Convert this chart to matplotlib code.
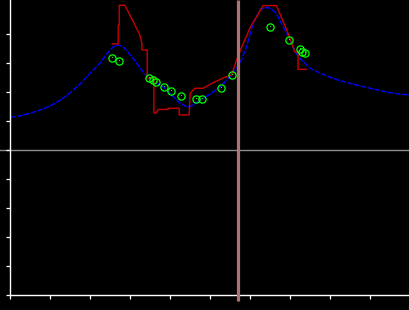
import numpy as np
import matplotlib
matplotlib.use("Agg")
import matplotlib.pyplot as plt

# blue model curve
model_x = [0.0, 0.25, 0.5, 0.75, 1.0, 1.25, 1.5, 1.75, 2.0, 2.25, 2.41, 2.575, 2.7,
           2.825, 3.0, 3.075, 3.25, 3.41, 3.575, 3.75, 3.91, 4.075, 4.25, 4.41, 4.535,
           4.75, 5.0, 5.25, 5.535, 5.75, 5.91, 6.075, 6.25, 6.37, 6.5, 6.66, 6.825,
           7.0, 7.12, 7.285, 7.5, 7.75, 8.0, 8.25, 8.5, 8.75, 9.0, 9.25, 9.5, 9.75, 10.0]
model_y = [1.14, 1.19, 1.28, 1.39, 1.53, 1.73, 1.99, 2.29, 2.66, 3.02, 3.32, 3.57, 3.63,
           3.57, 3.29, 3.17, 2.83, 2.56, 2.37, 2.25, 2.10, 1.85, 1.62, 1.50, 1.53,
           1.73, 1.94, 2.19, 2.60, 3.01, 3.57, 4.38, 4.84, 4.93, 4.90, 4.72, 4.26,
           3.80, 3.40, 3.11, 2.83, 2.66, 2.52, 2.40, 2.31, 2.22, 2.14, 2.06, 1.99, 1.94, 1.90]

# red step trace
trace_x = [2.55, 2.70, 2.70, 2.725, 2.725, 2.8675, 3.235, 3.2925, 3.2925, 3.425, 3.425,
           3.5925, 3.5925, 3.6425, 3.70, 3.95, 3.95, 4.225, 4.225, 4.475, 4.50, 4.6175,
           4.825, 5.075, 5.3675, 5.535, 5.66, 5.7425, 5.9925, 6.325, 6.66, 6.95, 7.1175,
           7.20, 7.20, 7.41]
trace_y = [3.67, 3.67, 4.32, 4.32, 5.0, 5.0, 4.0, 3.69, 3.46, 3.46, 2.49,
           2.49, 1.28, 1.28, 1.41, 1.41, 1.45, 1.45, 1.22, 1.22, 1.96, 2.14,
           2.14, 2.33, 2.52, 2.60, 3.11, 3.40, 4.21, 4.99, 4.99, 4.03, 3.40,
           3.37, 2.79, 2.79]

# green measured points
meas_x = [2.55, 2.725, 3.46, 3.56, 3.6425, 3.85, 4.025, 4.275, 4.6425, 4.785,
          5.275, 5.535, 6.50, 6.975, 7.2425, 7.31, 7.385]
meas_y = [3.17, 3.07, 2.48, 2.41, 2.36, 2.17, 2.05, 1.86, 1.76, 1.76,
          2.15, 2.59, 4.24, 3.79, 3.48, 3.40, 3.35]

marker_x = 5.7

W, H = 410, 310
fig = plt.figure(figsize=(W / 100, H / 100), dpi=100, facecolor="black")
ax = fig.add_axes([10.3 / W, 14.7 / H, 1 - 10.3 / W, 1 - 14.7 / H])
ax.set_facecolor("black")

x0, x1 = 0.0, 10.0
y0, y1 = -5.0, 5.183
ax.set_xlim(x0, x1)
ax.set_ylim(y0, y1)

# zero line and marker line, running past the axes
ax.plot([-0.26, x1], [0, 0], color="#8c8c8c", lw=1.0, clip_on=False, zorder=1)
ax.plot([marker_x, marker_x], [y1, -5.2], color="#a87474", lw=2.3,
        clip_on=False, zorder=5, solid_capstyle="butt")

ax.plot(model_x, model_y, color="#0000ff", lw=1.0, dashes=(4, 1), zorder=2)
ax.plot(trace_x, trace_y, color="#c80000", lw=1.0, zorder=3)
ax.plot(meas_x, meas_y, "o", ms=5.2, mfc="none", mec="#00ff00", mew=0.9, zorder=4)
ax.plot(meas_x, meas_y, ",", color="#00ff00", zorder=4)

for side in ["top", "right"]:
    ax.spines[side].set_visible(False)
for side in ["left", "bottom"]:
    ax.spines[side].set_color("white")
    ax.spines[side].set_linewidth(1.0)

ax.set_xticks(np.arange(0, 11, 1))
ax.set_yticks(np.arange(-5, 5, 1))
ax.tick_params(colors="white", length=3, width=0.9, direction="out",
               labelbottom=False, labelleft=False)

fig.savefig("out.png", dpi=100, facecolor="black")
